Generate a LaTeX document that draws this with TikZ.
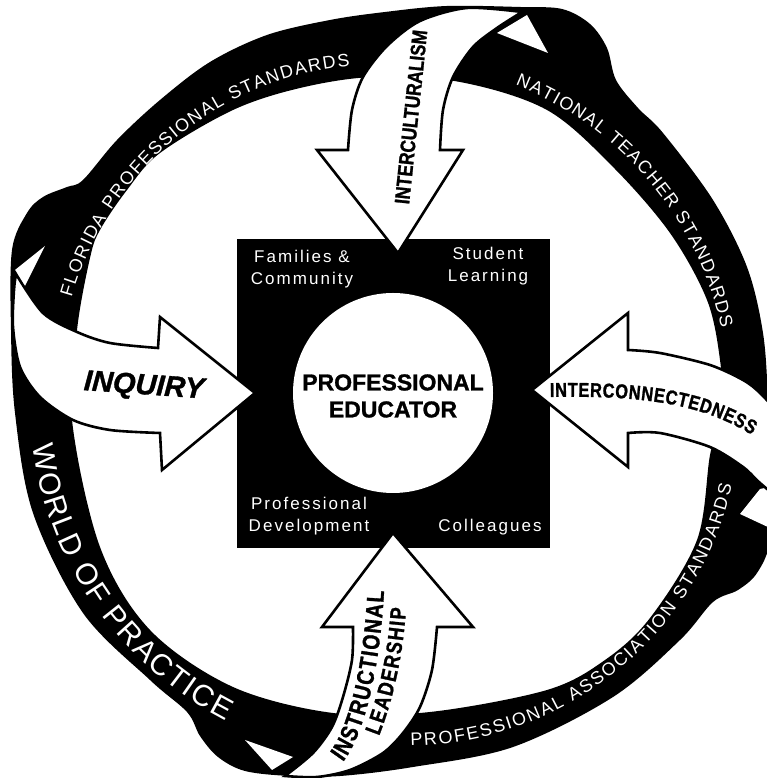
\documentclass[tikz,border=0pt]{standalone}
\usepackage{fontspec}
\setmainfont{Liberation Sans}
\newfontfamily\heavyfont[FakeStretch=0.82,FakeBold=1.2]{Liberation Sans Bold}
\newfontfamily\blackfont[FakeBold=1.2]{Liberation Sans Bold}
\newfontfamily\blackitfont[FakeBold=1.2]{Liberation Sans Bold Italic}
\newfontfamily\spacedfont[LetterSpace=12]{Liberation Sans}
\usetikzlibrary{decorations.text,calc}
\tikzset{
  arrowshape/.style={fill=white, draw=black, line width=2.6pt, line join=miter},
  cornertext/.style={text=white, font=\spacedfont\fontsize{17}{22}\selectfont, align=center, inner sep=0pt},
  ribbontext/.style={decorate, decoration={text along path, text color=white, text align={fit to path}, text={#1}}},
  arrowtext/.style={decorate, decoration={text along path, text align={fit to path}, text={#1}}}
}
\begin{document}
\begin{tikzpicture}[x=1pt,y=1pt]
\useasboundingbox (0,0) rectangle (767,778);
\clip (0,0) rectangle (767,778);
\fill[white] (0,0) rectangle (767,778);
\coordinate (C) at (390,378);
\coordinate (CF) at (381.1,391.7);
\coordinate (CP) at (406.5,365.7);
\begin{scope}[shift={(0,778)}, y=-1pt]
  % black ring with loops
  \fill[black, even odd rule]
    plot[smooth cycle, tension=0.55] coordinates {
      (267,35) (330,20) (385,12) (447,6) (520,7) (562,9) (590,24) (607,48) (616,80)
      (638,108) (663,133) (713,200) (747,267) (763,333) (768,400) (770,470) (770,540)
      (757,573) (738,590) (713,602) (680,640) (613,697) (513,747) (413,767) (340,776)
      (290,776) (245,771) (218,757) (200,736) (187,712) (150,680) (83,613) (33,513)
      (15,413) (11,330) (12,250) (27,213) (43,197) (67,187) (83,180) (117,140) (160,100) (210,62)}
    plot[smooth cycle, tension=0.55] coordinates {
      (373,77) (460,82) (547,110) (613,167) (670,233) (707,300) (720,360) (722,410)
      (710,455) (697,540) (650,618) (605,660) (547,690) (430,712) (333,713) (233,687)
      (150,630) (100,547) (72,420) (77,330) (90,258) (100,230) (127,190) (160,153)
      (233,110) (300,88)};
  % white back sides of the ribbon loops
  \fill[white] (15,270) -- (45,246) -- (24,288) -- cycle;
  \fill[white] (497,33) -- (527,15) -- (548,53) -- cycle;
  \fill[white] (740,514) -- (760,489) -- (770,487) -- (770,528) -- cycle;
  \fill[white] (245,740) -- (293,757) -- (272,770) -- cycle;
  % centre square and circle
  \fill[black] (237,239) rectangle (550,548);
  \fill[white] (393,393) circle[radius=100];
  % INQUIRY arrow (from the left)
  \draw[arrowshape] (255,393) -- (162,470) -- (160,433)
    -- plot[smooth] coordinates {(160,433) (110,430) (73,420) (40,397) (20,367) (13,327) (14,290) (16,274)}
    -- plot[smooth] coordinates {(16,274) (43,313) (77,332) (110,343) (158,348)}
    -- (160,317) -- cycle;
  % INTERCULTURALISM arrow (from the top)
  \draw[arrowshape] (398,253) -- (463,150) -- (440,150)
    -- plot[smooth] coordinates {(440,150) (443,110) (453,77) (473,47) (497,28) (522,12)}
    -- plot[smooth] coordinates {(522,12) (467,8) (420,21) (387,46) (363,77) (352,110) (348,150)}
    -- (317,150) -- cycle;
  % INTERCONNECTEDNESS arrow (from the right)
  \draw[arrowshape] (532,390) -- (628,313) -- (628,350)
    -- plot[smooth] coordinates {(628,350) (660,353) (710,365) (743,380) (760,393) (785,420)}
    -- plot[smooth] coordinates {(790,508) (760,483) (743,467) (710,447) (660,433) (628,433)}
    -- (628,467) -- cycle;
  % INSTRUCTIONAL LEADERSHIP arrow (from the bottom)
  \draw[arrowshape] (393,533) -- (473,627) -- (437,627)
    -- plot[smooth] coordinates {(437,627) (432,670) (420,707) (403,733) (383,753) (350,770) (317,777) (285,776)}
    -- plot[smooth] coordinates {(285,776) (313,753) (332,727) (343,697) (352,660) (353,627)}
    -- (322,627) -- cycle;
\end{scope}
% centre texts
\node[font=\blackfont\fontsize{23}{27}\selectfont, align=center, inner sep=0pt] (pe) at (393,382) {PROFESSIONAL\\EDUCATOR};
\node[cornertext] (fc) at (302,509) {Families \&\\Community};
\node[cornertext] (sl) at (488,512) {Student\\Learning};
\node[cornertext] (pd) at (309,262) {Professional\\Development};
\node[cornertext] (co) at (490,251) {Colleagues};
% arrow labels
\node[font=\blackitfont\fontsize{29}{30}\selectfont, rotate=-4, inner sep=0pt] (inq) at (144,391) {INQUIRY};
\node[font=\heavyfont\fontsize{21}{22}\selectfont, rotate=84, inner sep=0pt] (icu) at (411,661) {INTERCULTURALISM};
\path[arrowtext={|\heavyfont\fontsize{20}{20}\selectfont|INTERCONNECTEDNESS}]
  (550,381) .. controls (650,383) and (705,372) .. (752,343);
\path[arrowtext={|\heavyfont\fontsize{24}{24}\selectfont|INSTRUCTIONAL}]
  (343,16) .. controls (365,45) and (380,110) .. (384,187);
\path[arrowtext={|\heavyfont\fontsize{22}{22}\selectfont|LEADERSHIP}]
  (379,42) .. controls (392,75) and (403,120) .. (406,170);
% ribbon texts
\path[ribbontext={|\fontsize{18}{18}\selectfont|FLORIDA PROFESSIONAL STANDARDS}]
  ($(CF)+(164:322)$) arc[start angle=164, end angle=95.6, radius=322];
\path[ribbontext={|\fontsize{18}{18}\selectfont|NATIONAL TEACHER STANDARDS}]
  ($(C)+(68.3:339)$) arc[start angle=68.3, end angle=12.3, radius=339];
\path[ribbontext={|\fontsize{18}{18}\selectfont|PROFESSIONAL ASSOCIATION STANDARDS}]
  ($(CP)+(-89.3:333.5)$) arc[start angle=-89.3, end angle=-12.7, radius=333.5];
\path[ribbontext={|\fontsize{30}{30}\selectfont|WORLD OF PRACTICE}]
  ($(C)+(187.3:360)$) arc[start angle=187.3, end angle=242.9, radius=360];
\end{tikzpicture}
\end{document}
